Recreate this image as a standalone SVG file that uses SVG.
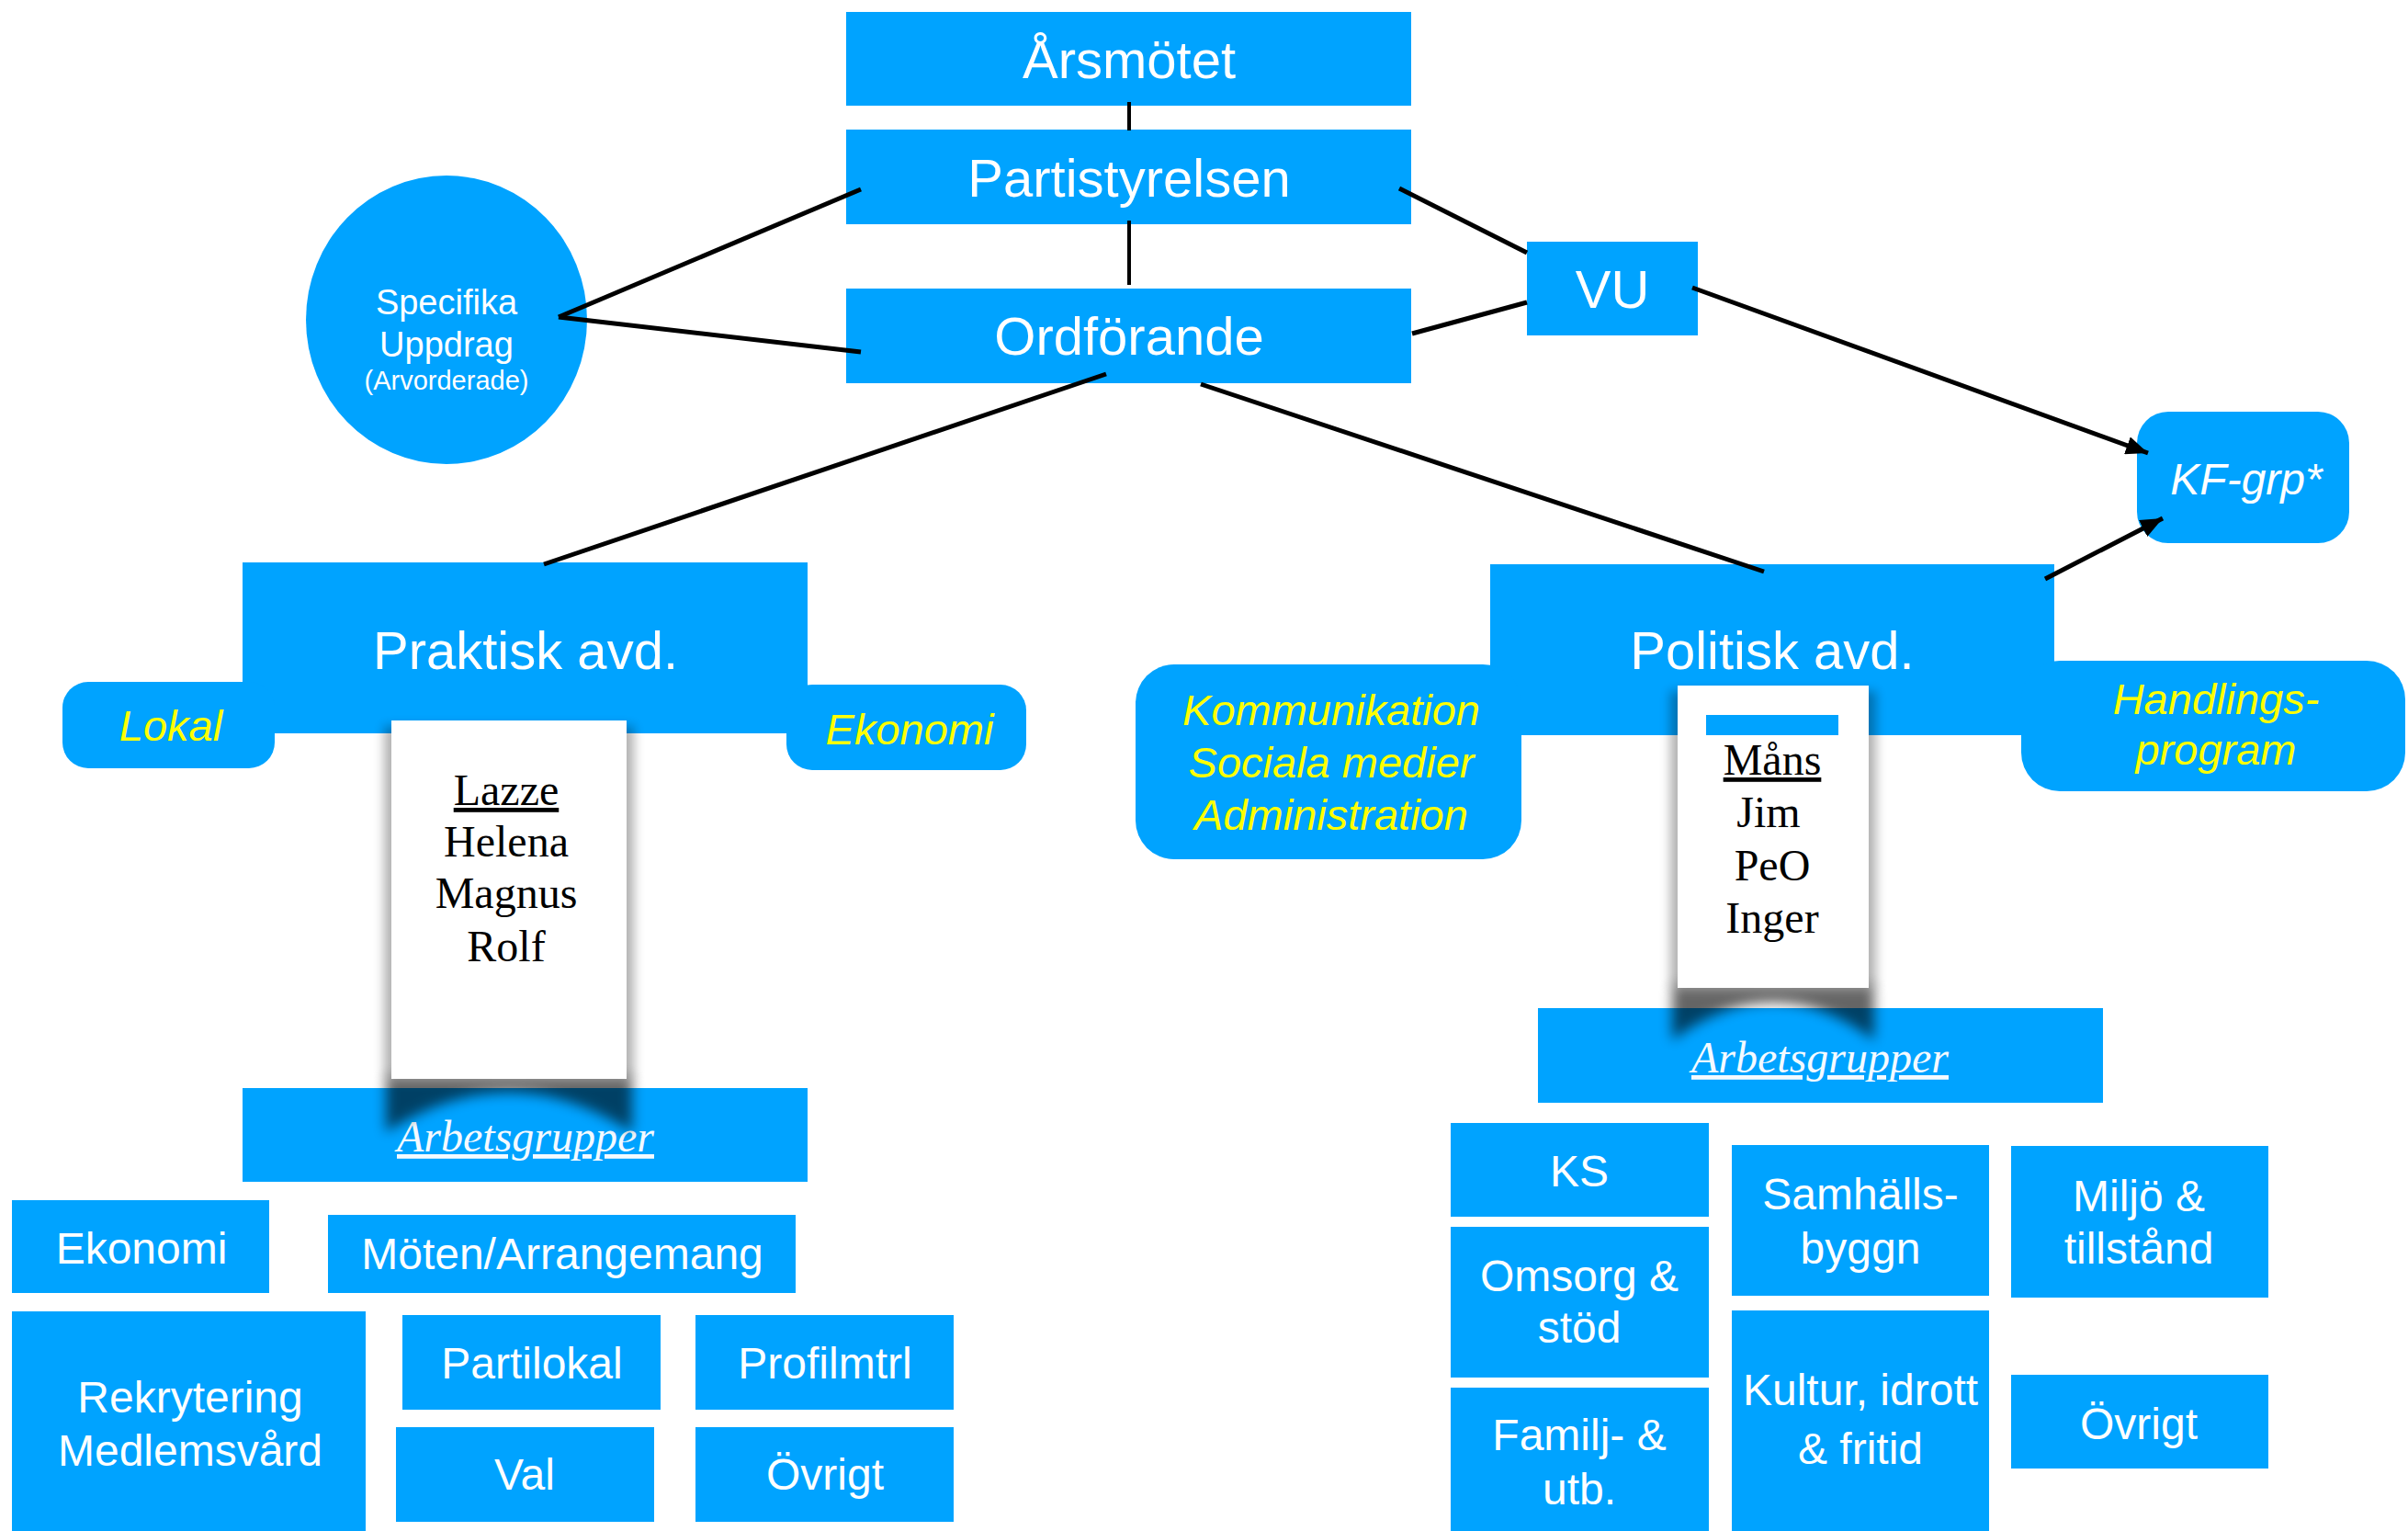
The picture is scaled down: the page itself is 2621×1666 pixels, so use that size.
<svg xmlns="http://www.w3.org/2000/svg" width="2621" height="1666" viewBox="0 0 2621 1666">
<defs>
<style>
.b{fill:#00A3FF}
.t{font-family:"Liberation Sans",Arial,sans-serif;fill:#fff;text-anchor:middle}
.h{font-size:58px}
.m{font-size:48px}
.y{fill:#FFFF00;font-style:italic;font-size:47px}
.n{font-family:"Liberation Serif","Times New Roman",serif;fill:#000;text-anchor:middle;font-size:48px}
.a{font-family:"Liberation Serif","Times New Roman",serif;fill:#F4FAFF;text-anchor:middle;font-size:48px;font-style:italic;text-decoration:underline}
.u{text-decoration:underline}
.c{stroke:#000;stroke-width:5;fill:none}
.v{stroke:#000;stroke-width:4;fill:none}
.card{fill:#fff}
.sh{fill:#000;opacity:.3}
.curl{fill:#000;opacity:.6}
</style>
<filter id="blur" x="-20%" y="-20%" width="140%" height="140%"><feGaussianBlur stdDeviation="6"/></filter>
<filter id="blur2" x="-20%" y="-50%" width="140%" height="200%"><feGaussianBlur stdDeviation="7"/></filter>
<marker id="arr" markerUnits="userSpaceOnUse" markerWidth="26" markerHeight="20" refX="24" refY="10" orient="auto"><path d="M0,0 L24,10 L0,20 Z" fill="#000"/></marker>
</defs>
<rect width="2621" height="1666" fill="#fff"/>

<g id="arsmotet"><rect class="b" x="921" y="13" width="615" height="102"/><text class="t h" x="1229" y="85">Årsmötet</text></g>
<g id="partistyrelsen"><rect class="b" x="921" y="141" width="615" height="103"/><text class="t h" x="1229" y="214">Partistyrelsen</text></g>
<g id="ordforande"><rect class="b" x="921" y="314" width="615" height="103"/><text class="t h" x="1229" y="386">Ordförande</text></g>
<g id="specifika"><ellipse class="b" cx="486" cy="348" rx="153" ry="157"/><text class="t" x="486" y="342" font-size="38">Specifika</text><text class="t" x="486" y="388" font-size="38">Uppdrag</text><text class="t" x="486" y="424" font-size="29">(Arvorderade)</text></g>
<g id="vu"><rect class="b" x="1662" y="263" width="186" height="102"/><text class="t h" x="1755" y="335">VU</text></g>
<g id="kfgrp"><rect class="b" x="2326" y="448" width="231" height="143" rx="34"/><text class="t" x="2445" y="538" font-size="48" font-style="italic">KF-grp*</text></g>

<g id="praktisk">
<rect class="b" x="264" y="612" width="615" height="186"/>
<rect class="b" x="68" y="742" width="231" height="94" rx="28"/>
<rect class="b" x="856" y="745" width="261" height="93" rx="28"/>
<text class="t h" x="572" y="728">Praktisk avd.</text>
<text class="t y" x="186" y="806">Lokal</text>
<text class="t y" x="990" y="810">Ekonomi</text>
</g>
<g id="arbetsgrupper-praktisk"><rect class="b" x="264" y="1184" width="615" height="102"/><text class="a" x="572" y="1253">Arbetsgrupper</text></g>
<g id="card-praktisk">
<rect class="sh" x="418" y="790" width="272" height="384" filter="url(#blur)"/>
<path class="curl" d="M420,1172 L420,1232 Q554,1146 688,1232 L688,1172 Z" filter="url(#blur2)"/>
<rect class="card" x="426" y="784" width="256" height="390"/>
<text class="n u" x="551" y="876">Lazze</text>
<text class="n" x="551" y="932">Helena</text>
<text class="n" x="551" y="988">Magnus</text>
<text class="n" x="551" y="1046">Rolf</text>
</g>

<g id="politisk">
<rect class="b" x="1622" y="614" width="614" height="186"/>
<rect class="b" x="1236" y="723" width="420" height="212" rx="42"/>
<rect class="b" x="2200" y="719" width="418" height="142" rx="42"/>
<text class="t h" x="1929" y="728">Politisk avd.</text>
<text class="t y" x="1449" y="789" font-size="46">Kommunikation</text>
<text class="t y" x="1449" y="846" font-size="46">Sociala medier</text>
<text class="t y" x="1449" y="903" font-size="46">Administration</text>
<text class="t y" x="2412" y="777">Handlings-</text>
<text class="t y" x="2412" y="832">program</text>
</g>
<g id="arbetsgrupper-politisk"><rect class="b" x="1674" y="1097" width="615" height="103"/><text class="a" x="1981" y="1167">Arbetsgrupper</text></g>
<g id="card-politisk">
<rect class="sh" x="1818" y="752" width="224" height="323" filter="url(#blur)"/>
<path class="curl" d="M1820,1073 L1820,1132 Q1930,1050 2040,1132 L2040,1073 Z" filter="url(#blur2)"/>
<rect class="card" x="1826" y="746" width="208" height="329"/>
<rect class="b" x="1857" y="778" width="144" height="22"/>
<text class="n u" x="1929" y="843">Måns</text>
<text class="n" x="1925" y="900">Jim</text>
<text class="n" x="1929" y="958">PeO</text>
<text class="n" x="1929" y="1015">Inger</text>
</g>

<g id="pg-ekonomi"><rect class="b" x="13" y="1306" width="280" height="101"/><text class="t m" x="154" y="1375">Ekonomi</text></g>
<g id="pg-moten"><rect class="b" x="357" y="1322" width="509" height="85"/><text class="t m" x="612" y="1381">Möten/Arrangemang</text></g>
<g id="pg-rekrytering"><rect class="b" x="13" y="1427" width="385" height="239"/><text class="t m" x="207" y="1537">Rekrytering</text><text class="t m" x="207" y="1595">Medlemsvård</text></g>
<g id="pg-partilokal"><rect class="b" x="438" y="1431" width="281" height="103"/><text class="t m" x="579" y="1500">Partilokal</text></g>
<g id="pg-profilmtrl"><rect class="b" x="757" y="1431" width="281" height="103"/><text class="t m" x="898" y="1500">Profilmtrl</text></g>
<g id="pg-val"><rect class="b" x="431" y="1553" width="281" height="103"/><text class="t m" x="571" y="1621">Val</text></g>
<g id="pg-ovrigt"><rect class="b" x="757" y="1553" width="281" height="103"/><text class="t m" x="898" y="1621">Övrigt</text></g>

<g id="ag-ks"><rect class="b" x="1579" y="1222" width="281" height="102"/><text class="t m" x="1719" y="1291">KS</text></g>
<g id="ag-omsorg"><rect class="b" x="1579" y="1335" width="281" height="164"/><text class="t m" x="1719" y="1405">Omsorg &amp;</text><text class="t m" x="1719" y="1461">stöd</text></g>
<g id="ag-familj"><rect class="b" x="1579" y="1510" width="281" height="156"/><text class="t m" x="1719" y="1578">Familj- &amp;</text><text class="t m" x="1719" y="1637">utb.</text></g>
<g id="ag-samhalls"><rect class="b" x="1885" y="1246" width="280" height="164"/><text class="t m" x="2025" y="1316">Samhälls-</text><text class="t m" x="2025" y="1375">byggn</text></g>
<g id="ag-kultur"><rect class="b" x="1885" y="1426" width="280" height="240"/><text class="t m" x="2025" y="1529">Kultur, idrott</text><text class="t m" x="2025" y="1593">&amp; fritid</text></g>
<g id="ag-miljo"><rect class="b" x="2189" y="1247" width="280" height="165"/><text class="t m" x="2328" y="1318">Miljö &amp;</text><text class="t m" x="2328" y="1375">tillstånd</text></g>
<g id="ag-ovrigt"><rect class="b" x="2189" y="1496" width="280" height="102"/><text class="t m" x="2328" y="1566">Övrigt</text></g>

<g id="connectors">
<line class="v" x1="1229" y1="111" x2="1229" y2="142"/>
<line class="v" x1="1229" y1="240" x2="1229" y2="310"/>
<line class="c" x1="608" y1="345" x2="937" y2="206"/>
<line class="c" x1="608" y1="345" x2="937" y2="383"/>
<line class="c" x1="1523" y1="205" x2="1662" y2="275"/>
<line class="c" x1="1537" y1="363" x2="1662" y2="329"/>
<line class="c" x1="1204" y1="407" x2="592" y2="614"/>
<line class="c" x1="1307" y1="418" x2="1920" y2="622"/>
<line class="c" x1="1842" y1="313" x2="2338" y2="493" marker-end="url(#arr)"/>
<line class="c" x1="2226" y1="630" x2="2354" y2="564" marker-end="url(#arr)"/>
</g>
</svg>
